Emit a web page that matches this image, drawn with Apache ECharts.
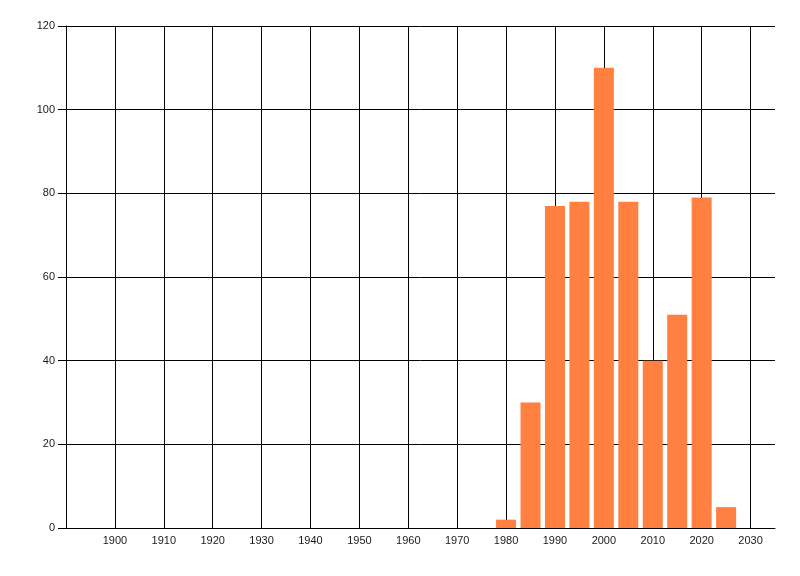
<!DOCTYPE html>
<html>
<head>
<meta charset="utf-8">
<script src="https://cdn.jsdelivr.net/npm/echarts@6/dist/echarts.min.js"></script>
<style>
  html, body { margin: 0; padding: 0; background: #fff; }
  #chart { width: 800px; height: 576px; }
</style>
</head>
<body>
<div id="chart"></div>
<script>
// values
const years = [1980, 1985, 1990, 1995, 2000, 2005, 2010, 2015, 2020, 2025];
const counts = [2, 30, 77, 78, 110, 78, 40, 51, 79, 5];

const barData = years.map((y, i) => [y, counts[i]]);

const font = { fontFamily: 'Liberation Sans', fontSize: 11, color: '#1a1a1a' };

let myChart = echarts.init(document.getElementById('chart'));
let option = {
    animation: false,
    backgroundColor: '#fff',
    grid: { left: 66, right: 25, top: 26, bottom: 48 },
    xAxis: {
        type: 'value',
        min: 1890,
        max: 2035,
        interval: 10,
        axisLine: { show: true, onZero: false, lineStyle: { color: '#000', width: 1 } },
        axisTick: { show: false },
        axisLabel: Object.assign({
            margin: 7,
            showMinLabel: false,
            showMaxLabel: false,
            formatter: v => (v % 10 === 0 && v > 1890 && v <= 2030) ? String(v) : ''
        }, font),
        splitLine: {
            show: true,
            showMinLine: false,
            showMaxLine: false,
            lineStyle: { color: '#000', width: 1 }
        }
    },
    yAxis: {
        type: 'value',
        min: 0,
        max: 120,
        interval: 20,
        axisLine: { show: true, lineStyle: { color: '#000', width: 1 } },
        axisTick: { show: true, length: 8, lineStyle: { color: '#000', width: 1 } },
        axisLabel: Object.assign({ margin: 11 }, font),
        splitLine: { show: true, lineStyle: { color: '#000', width: 1 } }
    },
    series: [{
        type: 'bar',
        data: barData,
        barWidth: 20,
        itemStyle: { color: '#FF8040' }
    }]
};
option && myChart.setOption(option);
</script>
</body>
</html>
